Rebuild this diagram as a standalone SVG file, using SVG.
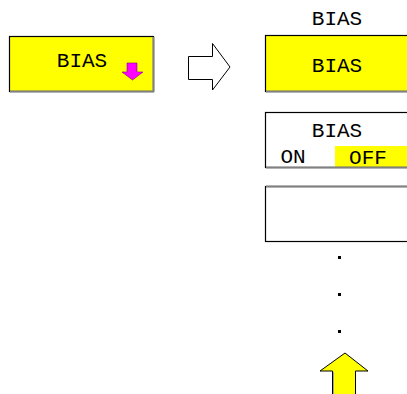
<svg xmlns="http://www.w3.org/2000/svg" width="407" height="394" viewBox="0 0 407 394">
<style>
.t{font-family:"Liberation Mono","Courier New",monospace;font-size:21px;fill:#000}
.c{text-anchor:middle}
.box{stroke:#000;stroke-width:1.2}
.sh{stroke:#808080;stroke-width:2}
</style>
<rect width="407" height="394" fill="#fff"/>
<g id="softkey-left">
<rect x="9.5" y="36.5" width="144" height="55" fill="#ffff00" class="box"/>
<line x1="10" y1="91.5" x2="154" y2="91.5" class="sh"/>
<line x1="153.5" y1="37" x2="153.5" y2="92" class="sh"/>
<text x="82" y="67" class="t c">BIAS</text>
<polygon points="127,63 137,63 137,72 143,72 132.5,80 122,72 127,72" fill="#ff00ff" stroke="#800080" stroke-width="0.6"/>
</g>
<g id="connectors">
<polygon points="188.5,56.5 212.5,56.5 212.5,43.5 230,67 212.5,90 212.5,79.5 188.5,79.5" fill="#fff" stroke="#000" stroke-width="1"/>
</g>
<g id="menu-title">
<text x="337" y="25" class="t c">BIAS</text>
</g>
<g id="softkey-bias">
<rect x="265.5" y="35.5" width="150" height="56" fill="#ffff00" class="box"/>
<line x1="266" y1="91.5" x2="407" y2="91.5" class="sh"/>
<text x="337" y="72" class="t c">BIAS</text>
</g>
<g id="softkey-bias-onoff">
<rect x="335" y="146" width="72" height="22" fill="#ffff00"/>
<rect x="265.5" y="112.5" width="150" height="55" fill="none" class="box"/>
<line x1="266" y1="167.5" x2="407" y2="167.5" class="sh"/>
<text x="337" y="137" class="t c">BIAS</text>
<text x="293" y="163" class="t c">ON</text>
<text x="368" y="164" class="t c">OFF</text>
</g>
<g id="softkey-empty">
<rect x="265.5" y="186.5" width="150" height="55" fill="none" class="box"/>
<line x1="266" y1="186.5" x2="407" y2="186.5" class="sh"/>
</g>
<g id="dots">
<rect x="338" y="256" width="3" height="3" fill="#000"/>
<rect x="338" y="293" width="3" height="3" fill="#000"/>
<rect x="338" y="330" width="3" height="3" fill="#000"/>
</g>
<g id="up-arrow">
<polygon points="345,353 368,371 355.5,371 355.5,395 332.5,395 332.5,371 320,371" fill="#ffff00" stroke="#000" stroke-width="1"/>
<line x1="333.5" y1="372" x2="333.5" y2="394" stroke="#a0a0a0" stroke-width="1"/>
</g>
</svg>
